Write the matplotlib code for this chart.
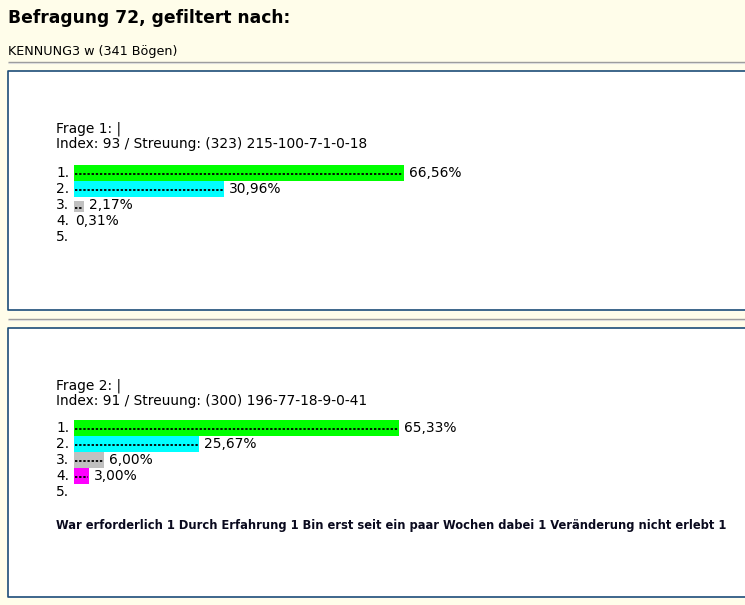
import numpy as np
import matplotlib
matplotlib.use("Agg")
import matplotlib.pyplot as plt

# page texts
page_title = "Befragung 72, gefiltert nach:"
filter_text = "KENNUNG3 w (341 Bögen)"

# question 1
q1_title = "Frage 1: |"
q1_index = "Index: 93 / Streuung: (323) 215-100-7-1-0-18"
q1_pct = [66.56, 30.96, 2.17, 0.31, None]

# question 2
q2_title = "Frage 2: |"
q2_index = "Index: 91 / Streuung: (300) 196-77-18-9-0-41"
q2_pct = [65.33, 25.67, 6.00, 3.00, None]
q2_footer = ("War erforderlich 1 Durch Erfahrung 1 Bin erst seit ein paar Wochen "
             "dabei 1 Veränderung nicht erlebt 1")

answers = ["1.", "2.", "3.", "4.", "5."]
bar_colors = ["#00ff00", "#00ffff", "#c0c0c0", "#ff00ff", "#0000ff"]

W, H = 745, 605
BG = "#fffdea"
BORDER = "#1d4d78"
FONT = "DejaVu Sans"
FS = 9.9


def px_axes(fig, x, y, w, h):
    # axes placed with pixel coordinates measured from the top left corner
    return fig.add_axes([x / W, 1 - (y + h) / H, w / W, h / H])


def hrule(ax, y):
    ax.plot([8, W], [y, y], color="#9a9a9a", lw=1.0, solid_capstyle="butt")
    ax.plot([8, W], [y + 1, y + 1], color="#dcdcdc", lw=0.8, solid_capstyle="butt")


def draw_question(fig, bg, top, title, index, pcts, row0, short_rows=()):
    bg.text(56, top, title, fontsize=FS, family=FONT, va="baseline")
    bg.text(56, top + 15.5, index, fontsize=FS, family=FONT, va="baseline")

    # bar area: 5 px per percent, 16 px per answer row
    ax = px_axes(fig, 74, row0 - 8, 500, 80)
    ax.set_xlim(0, 100)
    ax.set_ylim(5.5, 0.5)
    ax.axis("off")
    rows = np.arange(1, len(answers) + 1)
    for r, lab, p, c in zip(rows, answers, pcts, bar_colors):
        ax.text(-3.6, r + 0.28, lab, fontsize=FS, family=FONT, ha="left",
                va="baseline")
        if p is None:
            continue
        w = np.floor(p)
        h, yc = (0.72, r + 0.1) if r in short_rows else (1.0, r)
        if w > 0:
            ax.barh(yc, w, height=h, color=c, edgecolor="none")
            ax.plot([0.25, w - 0.3], [yc + 0.06, yc + 0.06], color="black",
                    lw=1.3, dashes=(1.3, 1.0), solid_capstyle="butt")
        ax.text(w + (1.0 if w > 0 else 0.15), r + 0.28,
                "{:.2f}%".format(p).replace(".", ","), fontsize=FS,
                family=FONT, va="baseline")
    return ax


fig = plt.figure(figsize=(W / 100, H / 100), dpi=100)
fig.patch.set_facecolor(BG)

bg = fig.add_axes([0, 0, 1, 1])
bg.set_xlim(0, W)
bg.set_ylim(H, 0)
bg.axis("off")

bg.text(8, 23, page_title, fontsize=12.3, fontweight="bold", family=FONT,
        va="baseline")
bg.text(8, 54.5, filter_text, fontsize=9.2, family=FONT, va="baseline")
hrule(bg, 62)

# white boxes with dark blue border (right edge runs off the page)
for y0, y1 in [(71, 310), (327.5, 597)]:
    bg.fill_between([8, W + 5], y0, y1, color="white", zorder=0)
    bg.plot([W + 5, 8, 8, W + 5], [y0, y0, y1, y1], color=BORDER, lw=1.2)
hrule(bg, 318.5)

draw_question(fig, bg, 132.5, q1_title, q1_index, q1_pct, 173, short_rows=(3,))
draw_question(fig, bg, 389.5, q2_title, q2_index, q2_pct, 428)

bg.text(56, 529.5, q2_footer, fontsize=8.3, fontweight="bold", family=FONT,
        va="baseline", color="#0a0a1e")

fig.savefig("out.png", dpi=100, facecolor=BG)
